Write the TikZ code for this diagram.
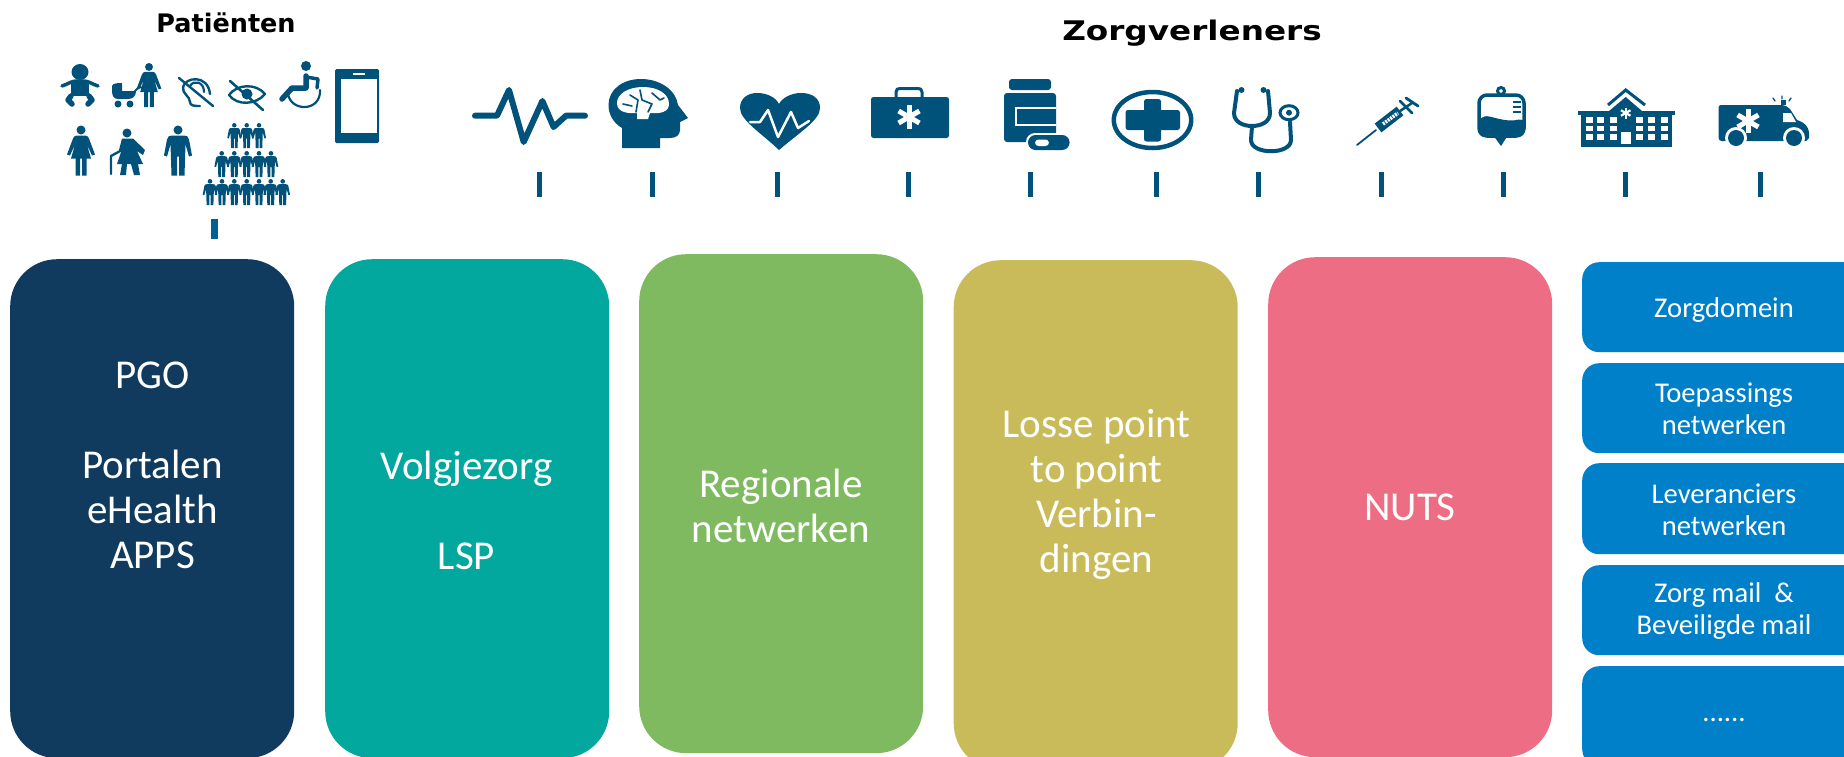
\documentclass[tikz,border=0pt]{standalone}
\usepackage{fontspec}
\usepackage{graphicx}
\setmainfont{Carlito}
\newfontfamily\headfont{DejaVu Sans}
\definecolor{icon}{HTML}{00527A}
\definecolor{tickblue}{HTML}{005F94}
\definecolor{cnavy}{HTML}{103A5E}
\definecolor{cteal}{HTML}{02A79E}
\definecolor{cgreen}{HTML}{80BA60}
\definecolor{cyellow}{HTML}{CABB5A}
\definecolor{cpink}{HTML}{ED6E84}
\definecolor{cblue}{HTML}{0080C8}
\tikzset{
  bigbox/.style={rectangle,rounded corners=47pt,inner sep=0pt,anchor=north west},
  sidebox/.style={rectangle,rounded corners=17pt,inner sep=0pt,anchor=north west,fill=cblue,minimum width=300pt},
  bigtext/.style={text=white,align=center,inner sep=0pt,font=\fontsize{41}{45}\selectfont},
  sidetext/.style={text=white,align=center,inner sep=0pt,font=\fontsize{28.6}{32}\selectfont},
  tickmark/.style={rectangle,fill=icon,inner sep=0pt,minimum width=5pt,minimum height=25pt},
  il/.style={draw=icon,line cap=round,line join=round},
  wl/.style={draw=white,line cap=round,line join=round},
}
\newcommand{\icwoman}[3]{\begin{scope}[shift={(#1,#2)},scale=#3]
  \fill[icon] (0,4.5) circle (4.5);
  \fill[icon] (-4,10) -- (4,10) .. controls (6,10) and (7,11) .. (8,13) -- (14,29) -- (11,30) -- (6,19) -- (10,33) -- (5.5,33) -- (5.5,50) -- (1,50) -- (1,33) -- (-1,33) -- (-1,50) -- (-5.5,50) -- (-5.5,33) -- (-10,33) -- (-6,19) -- (-11,30) -- (-14,29) -- (-8,13) .. controls (-7,11) and (-6,10) .. (-4,10) -- cycle;
\end{scope}}
\newcommand{\icman}[3]{\begin{scope}[shift={(#1,#2)},scale=#3]
  \fill[icon] (0,4.5) circle (4.5);
  \fill[icon] (-6,10) -- (6,10) .. controls (9,10) and (10.5,11) .. (11,14) -- (14,30) -- (11,31) -- (7.5,19) -- (6.5,50) -- (1,50) -- (1,31) -- (-1,31) -- (-1,50) -- (-6.5,50) -- (-7.5,19) -- (-11,31) -- (-14,30) -- (-11,14) .. controls (-10.5,11) and (-9,10) .. (-6,10) -- cycle;
\end{scope}}
\newcommand{\icstar}[4]{% x y r lw
  \begin{scope}[shift={(#1,#2)}]
  \draw[white,line width=#4pt] (0,-#3) -- (0,#3);
  \draw[white,line width=#4pt] (-.866*#3,-.5*#3) -- (.866*#3,.5*#3);
  \draw[white,line width=#4pt] (-.866*#3,.5*#3) -- (.866*#3,-.5*#3);
  \end{scope}}
\begin{document}
\begin{tikzpicture}[x=1pt,y=-1pt]
\useasboundingbox (0,0) rectangle (1844,756);
\clip (0,0) rectangle (1844,756);
% ---- titles
\node[inner sep=0pt,anchor=base] (patienten) at (226,32) {\headfont\bfseries\fontsize{25.5}{30}\selectfont Patiënten};
\node[inner sep=0pt,anchor=base] (zorgverleners) at (1192,40) {\scalebox{1.21}[1]{\headfont\bfseries\fontsize{27}{32}\selectfont Zorgverleners}};
% ---- big boxes
\node[bigbox,fill=cnavy,minimum width=284pt,minimum height=499pt] (b1) at (10,259) {};
\node[bigbox,fill=cteal,minimum width=284pt,minimum height=499pt] (b2) at (325,259) {};
\node[bigbox,fill=cgreen,minimum width=284pt,minimum height=499pt] (b3) at (639,254) {};
\node[bigbox,fill=cyellow,minimum width=284pt,minimum height=510pt] (b4) at (953.5,260) {};
\node[bigbox,fill=cpink,minimum width=284pt,minimum height=500pt] (b5) at (1268,257) {};
\node[bigtext] (t1) at (152.5,465) {PGO\\ ~\\ Portalen\\ eHealth\\ APPS};
\node[bigtext] (t2) at (466.5,510) {Volgjezorg\\ ~\\ LSP};
\node[bigtext] (t3) at (781,506) {Regionale\\ netwerken};
\node[bigtext] (t4) at (1096.5,494) {Losse point\\ to point\\ Verbin-\\ dingen};
\node[bigtext] (t5) at (1410,507.5) {NUTS};
% ---- side boxes
\node[sidebox,minimum height=90pt] (s1) at (1582,262) {};
\node[sidebox,minimum height=90pt] (s2) at (1582,363) {};
\node[sidebox,minimum height=91pt] (s3) at (1582,463) {};
\node[sidebox,minimum height=90pt] (s4) at (1582,565) {};
\node[sidebox,minimum height=100pt] (s5) at (1582,666) {};
\node[sidetext] (st1) at (1724,310) {Zorgdomein};
\node[sidetext] (st2) at (1724,408.5) {Toepassings\\ netwerken};
\node[sidetext] (st3) at (1724,510) {Leveranciers\\ netwerken};
\node[sidetext] (st4) at (1724,611) {Zorg mail~~\&\\ Beveiligde mail};
\node[sidetext] (st5) at (1724,719.5) {......};
% ---- ticks
\node[rectangle,fill=tickblue,inner sep=0pt,minimum width=7pt,minimum height=20pt] (tp) at (214.8,229) {};
\foreach \n/\x in {a/539,b/652,c/777,d/908,e/1030,f/1156,g/1258,h/1381,i/1503,j/1625,k/1760.5}
  \node[tickmark] (tick\n) at (\x,184.5) {};
% ---- baby
\fill[icon] (80,72) ellipse (8.5 and 8);
\draw[il,line width=3.5pt] (62,86) .. controls (68,84) and (72,81) .. (76,81) -- (84,81) .. controls (88,81) and (92,84) .. (98,86);
\fill[icon] (71,81) rectangle (89,96);
\draw[il,line width=5.5pt] (71,96) -- (68,100) -- (72,104);
\draw[il,line width=5.5pt] (89,96) -- (92,100) -- (88,104);
% ---- mother and pram
\icwoman{149}{63}{.88}
\fill[icon] (112,86) .. controls (113,83) and (118,83) .. (122,83) -- (122,91) -- (136,91) .. controls (136,96) and (133,99) .. (128,99) -- (118,99) .. controls (114,99) and (112,96) .. (112,91) -- cycle;
\fill[icon] (118,104) circle (3.5);
\fill[icon] (130,104) circle (3.5);
\draw[il,line width=2pt] (134,92) -- (139,87) -- (144,88);
% ---- deaf
\draw[il,line width=2.4pt] (183,87) .. controls (185,77) and (208,74) .. (210,94);
\draw[il,line width=2.2pt] (190,86) .. controls (193,80) and (204,81) .. (204,92);
\draw[il,line width=2.4pt] (183,87) .. controls (182,94) and (190,96) .. (190,102) .. controls (190,106) and (195,106) .. (200,106);
\draw[il,line width=2.4pt] (179,78) -- (213,106);
% ---- blind
\draw[il,line width=2.4pt] (229,95) .. controls (237,84) and (256,83) .. (265,94) .. controls (256,105) and (237,106) .. (229,95) -- cycle;
\fill[icon] (247,94) ellipse (5.5 and 5.5);
\draw[il,line width=2.6pt] (230,81) -- (263,110);
% ---- wheelchair
\fill[icon] (306,66) circle (5);
\draw[il,line width=5.5pt] (306,76) -- (306,88) -- (292,88) -- (282,99);
\draw[il,line width=3.5pt] (306,77) -- (318,79) -- (317,88);
\draw[il,line width=2.2pt] (288,94) .. controls (291,112) and (321,112) .. (320,90);
% ---- phone
\fill[icon,rounded corners=1.5pt] (335,69) rectangle (379,143);
\fill[white] (341,79) rectangle (377,133);
\fill[white] (353,72.5) rectangle (365,75);
% ---- patients row 2
\icwoman{81}{125.5}{1}
\fill[icon] (127,133) circle (4.5);
\fill[icon] (122,138.5) -- (133,138.5) -- (145,150) -- (143,155) -- (137,151) -- (143,164) -- (138,164) -- (140,175) -- (134,175) -- (131,164) -- (127,164) -- (126,175) -- (120,175) -- (122,164) -- (117,164) -- (121,152) -- (119,150) -- cycle;
\draw[il,line width=2.4pt] (111,174) -- (111,156) -- (122,150);
\icman{178}{125.5}{1}
% ---- crowd
\foreach \x/\k in {234.3/w,246.7/m,259/w}{\ifx\k w\relax\icwoman{\x}{123}{.5}\else\icman{\x}{123}{.5}\fi}
\foreach \x/\k in {221.7/m,234.3/w,246.7/m,259/w,271/m}{\ifx\k w\relax\icwoman{\x}{151}{.52}\else\icman{\x}{151}{.52}\fi}
\foreach \x/\k in {210/w,222/m,234.3/w,246.7/m,259/w,270.7/m,282.7/w}{\ifx\k w\relax\icwoman{\x}{179}{.52}\else\icman{\x}{179}{.52}\fi}
% ---- pulse
\draw[il,line width=6pt] (475,115.7) -- (497,115.7) -- (509,90) -- (523.7,142) -- (542.4,101) -- (553.6,127) -- (566,115.7) -- (585,115.7);
% ---- brain head
\fill[icon] (622,148) -- (622,128) .. controls (612,122) and (608.5,113) .. (608.5,105) .. controls (608.5,90) and (622,79) .. (641,79) .. controls (660,79) and (676,90) .. (678,105) -- (688,118) -- (680,122) -- (680,130) .. controls (680,135) and (676,138) .. (670,138) -- (660,138) -- (660,148) -- cycle;
\fill[white] (617,103) .. controls (617,94) and (628,87) .. (643,87) .. controls (658,87) and (669,94) .. (669,104) .. controls (669,112) and (660,114) .. (650,113) -- (648,119) -- (637,119) -- (637,113) .. controls (625,114) and (617,111) .. (617,103) -- cycle;
\draw[il,line width=1.6pt] (630,95) -- (638,100) -- (636,112);
\draw[il,line width=1.6pt] (640,90) -- (642,100) -- (652,104) -- (648,112);
\draw[il,line width=1.6pt] (623,104) -- (632,106);
\draw[il,line width=1.6pt] (652,93) -- (660,100) -- (664,98);
% ---- heart
\fill[icon] (779,150) .. controls (760,132) and (740,120) .. (740,108) .. controls (740,98) and (748,93) .. (757,93) .. controls (768,93) and (776,98) .. (779,104) .. controls (782,98) and (791,93) .. (801,93) .. controls (812,93) and (820,98) .. (820,108) .. controls (820,120) and (800,132) .. (779,150) -- cycle;
\draw[wl,line width=2.5pt] (750,122) -- (760,122) -- (768,110) -- (778,137) -- (791,112) -- (798,128) -- (809,121);
% ---- medical case
\fill[icon,rounded corners=2.5pt] (871,97) rectangle (949,138);
\draw[il,line width=3pt] (896,97) -- (896,92) .. controls (896,89) and (898,88.5) .. (900,88.5) -- (918,88.5) .. controls (920,88.5) and (922,89) .. (922,92) -- (922,97);
\icstar{909}{117}{12}{5}
% ---- pill bottle
\fill[icon,rounded corners=3pt] (1009,79) rectangle (1051,90);
\fill[icon,rounded corners=3pt] (1004,93) rectangle (1056,142);
\draw[white,line width=2.6pt] (1056,108) -- (1016,108) -- (1016,125) -- (1056,125);
\fill[white,rounded corners=9pt] (1026,133) rectangle (1071,152);
\fill[icon,rounded corners=7.5pt] (1028,135) rectangle (1069.6,150);
\fill[white,rounded corners=3.5pt] (1035,139.5) rectangle (1049,146);
% ---- plus circle
\draw[icon,line width=4.5pt] (1152.5,120) ellipse (38.7 and 28);
\fill[icon,rounded corners=2.5pt] (1125.5,110) rectangle (1180,130);
\fill[icon,rounded corners=2.5pt] (1144,99) rectangle (1161,141.5);
% ---- stethoscope
\draw[il,line width=4pt] (1237,91) -- (1234,113) .. controls (1234,122) and (1243,126) .. (1252,126) .. controls (1261,126) and (1270,122) .. (1270,113) -- (1268,91);
\draw[il,line width=4pt] (1252,126) -- (1251,140) .. controls (1251,155) and (1291,155) .. (1291,140) -- (1290,122);
\fill[icon] (1241.5,90) circle (3);
\fill[icon] (1263.5,90) circle (3);
\draw[icon,line width=3pt] (1289,112.7) ellipse (9 and 7);
\fill[icon] (1289,112.7) circle (3);
% ---- syringe
\draw[il,line width=1.8pt] (1357,145) -- (1376,130);
\draw[il,line width=11pt,line cap=butt] (1378,128) -- (1400,111);
\draw[wl,line width=3.5pt,line cap=butt,dash pattern=on 2pt off 1pt] (1383,124) -- (1398,113);
\draw[il,line width=2.5pt] (1400,111) -- (1412,103);
\draw[il,line width=2.8pt] (1400,101) -- (1412,113);
\draw[il,line width=2.8pt] (1406,98) -- (1418,106);
% ---- IV bag
\draw[icon,line width=3pt] (1501,91) circle (3.5);
\draw[icon,line width=3.5pt,rounded corners=8pt] (1479,95) rectangle (1524,136);
\fill[icon,rounded corners=7pt] (1478,118) .. controls (1490,115) and (1505,123) .. (1525,118) -- (1525,137) -- (1478,137) -- cycle;
\fill[icon] (1493,135) -- (1508,135) -- (1501,146) -- cycle;
\draw[icon,line width=1.5pt] (1513,102) -- (1521,102) (1513,107) -- (1521,107) (1513,112) -- (1521,112);
% ---- hospital
\fill[icon] (1581,115) rectangle (1672,147);
\fill[icon] (1578,111) rectangle (1675,115);
\fill[icon] (1625.7,97) -- (1642,111) -- (1642,116) -- (1609,116) -- (1609,111) -- cycle;
\draw[icon,line width=3pt] (1608,105) -- (1625.7,90) -- (1645,105);
\icstar{1625.7}{113}{5.5}{2.2}
\foreach \x in {1589,1600.5,1613,1639,1651,1664}
  \foreach \y in {120,128.5,137}
    \fill[white] (\x-3.5,\y-2.7) rectangle (\x+3.5,\y+2.7);
\fill[white] (1621,132) rectangle (1631,144);
% ---- ambulance
\fill[icon] (1721,105) -- (1781,105) .. controls (1785,105) and (1788,107) .. (1790,109) -- (1797,120) .. controls (1806,123) and (1810,128) .. (1809,138) -- (1806,141) -- (1722,141) .. controls (1720,141) and (1718.6,140) .. (1718.6,138) -- (1718.6,107) .. controls (1718.6,106) and (1720,105) .. (1721,105) -- cycle;
\fill[white] (1783,113) -- (1791,113) -- (1796,122) -- (1783,122) -- cycle;
\fill[white] (1736,138) circle (11);
\fill[white] (1794,138) circle (11);
\fill[icon] (1736,138) circle (8);
\fill[icon] (1794,138) circle (8);
\icstar{1748}{121}{12}{5}
\fill[icon] (1781,105) rectangle (1786,100);
\draw[il,line width=1.3pt] (1773,98) -- (1775,101) (1782,96) -- (1782,99) (1791,98) -- (1789,101);
\end{tikzpicture}
\end{document}
